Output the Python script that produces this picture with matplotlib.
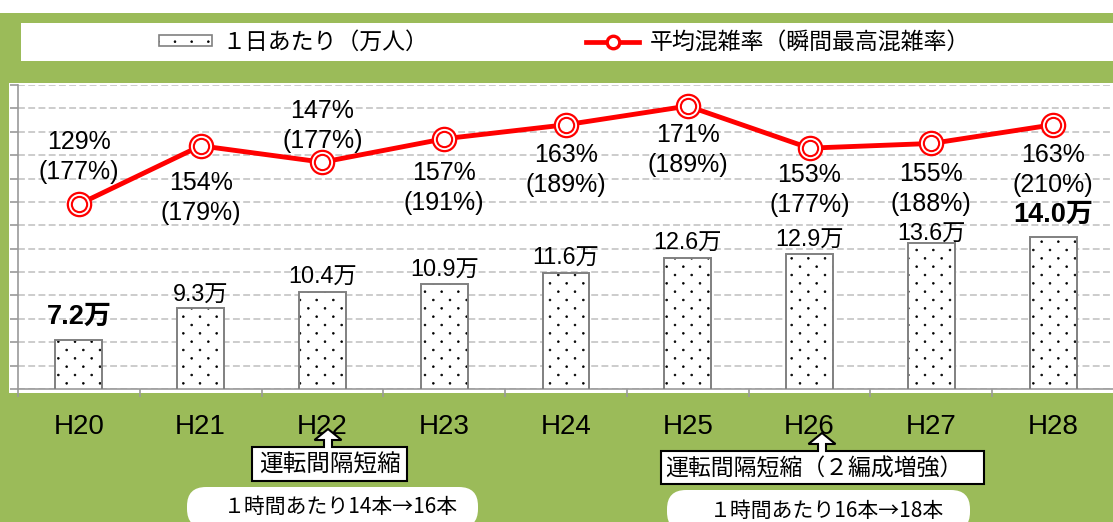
import numpy as np
import matplotlib
matplotlib.use('Agg')
import matplotlib.pyplot as plt
from matplotlib import patches as mpatches, transforms as mtransforms
from matplotlib import hatch as mhatch
from matplotlib.path import Path
from matplotlib.lines import Line2D
from matplotlib.legend_handler import HandlerTuple

# ---------------- data ----------------
years = ['H20', 'H21', 'H22', 'H23', 'H24', 'H25', 'H26', 'H27', 'H28']
riders = [7.2, 9.3, 10.4, 10.9, 11.6, 12.6, 12.9, 13.6, 14.0]          # 万人/日
avg_rate = [129, 154, 147, 157, 163, 171, 153, 155, 163]               # %
peak_rate = [177, 179, 177, 191, 189, 189, 177, 188, 210]              # %
bold_label = [True, False, False, False, False, False, False, False, True]
legend_labels = ['１日あたり（万人）', '平均混雑率（瞬間最高混雑率）']
note1_box = '運転間隔短縮'
note1_pill = '１時間あたり14本→16本'
note2_box = '運転間隔短縮（２編成増強）'
note2_pill = '１時間あたり16本→18本'

# ---------------- layout / style ----------------
W, H = 1113, 522
GREEN = '#9BBB59'
GRID = '#BFBFBF'
AXC = '#9A9A9A'
LAT = ['Liberation Sans', 'Noto Sans CJK JP']
JP = ['Noto Sans CJK JP', 'DejaVu Sans']
PT = 72 / 100  # points per pixel

pct_center_off = [-46, 53, -35, 50, 46, 45, 43, 47, 46]   # px, + = below marker
bar_label_gap = [17, 7, 8, 7, 9, 8, 7, 2, 15]              # px above bar top


# sparse staggered dot texture (Excel "5%" style) used for the '.' hatch
class SparseDots(mhatch.HatchPatternBase):
    def __init__(self, hatch, density):
        n = hatch.count('.')
        self.ncol = 6 * n
        self.nrow = 12 * n
        circ = Path.unit_circle()
        self.cv, self.cc = circ.vertices, circ.codes
        pts = []
        if n:
            for r in range(self.nrow + 1):
                if r % 2 == 0:
                    cols = np.linspace(0, 1, self.ncol + 1)
                else:
                    cols = np.linspace(0.5 / self.ncol, 1 - 0.5 / self.ncol, self.ncol)
                for c in cols:
                    pts.append((c, r / self.nrow))
        self.pts = pts
        self.num_vertices = len(pts) * len(self.cv)

    def set_vertices_and_codes(self, vertices, codes):
        nv = len(self.cv)
        shape = self.cv * 0.009
        for i, (px_, py_) in enumerate(self.pts):
            vertices[i * nv:(i + 1) * nv] = shape + (px_, py_)
            codes[i * nv:(i + 1) * nv] = self.cc


mhatch._hatch_types = [SparseDots if t is mhatch.SmallFilledCircles else t
                       for t in mhatch._hatch_types]
plt.rcParams['hatch.linewidth'] = 0.5

fig = plt.figure(figsize=(W / 100, H / 100), dpi=100, facecolor=GREEN)
PX = mtransforms.Affine2D().scale(1 / W, -1 / H).translate(0, 1) + fig.transFigure

# background blocks
for (x0, y0, w, h) in [(0, 0, W, 13), (21, 23, W - 21, 38), (9, 83, W - 9, 310)]:
    fig.add_artist(mpatches.Rectangle((x0, y0), w, h, transform=PX,
                                      facecolor='white', edgecolor='none', zorder=-5))

# ---------------- axes ----------------
left, right, top, bottom = 18, 1114, 85, 389
ax = fig.add_axes([left / W, (H - bottom) / H, (right - left) / W, (bottom - top) / H])
ax.set_facecolor('none')
x = np.arange(len(years))
ax.set_xlim(-0.5, len(years) - 0.5)
ax.set_ylim(4, 24)
ax.set_yticks(np.linspace(4, 24, 14))
ax.yaxis.grid(True, color=GRID, linestyle=(0, (4.5, 2.2)), linewidth=1.1)
ax.set_axisbelow(True)
for s in ['top', 'right']:
    ax.spines[s].set_visible(False)
for s in ['left', 'bottom']:
    ax.spines[s].set_color(AXC)
    ax.spines[s].set_linewidth(1.2)
ax.tick_params(axis='y', which='major', direction='out', length=8 * PT, width=1.2,
               color=AXC, labelleft=False)
ax.set_xticks(x)
ax.set_xticklabels(years, fontsize=20, family=LAT)
ax.set_xticks(np.arange(len(years) + 1) - 0.5, minor=True)
ax.tick_params(axis='x', which='major', length=0, pad=18)
ax.tick_params(axis='x', which='minor', direction='out', length=8 * PT, width=1.2, color=AXC)

bw = 0.385
ax.bar(x, riders, width=bw, color='white', edgecolor='black', linewidth=0,
       hatch='.', zorder=2)
ax.bar(x, riders, width=bw, facecolor='none', edgecolor='#808080', linewidth=1.4, zorder=3)

for xi, v, b, g in zip(x, riders, bold_label, bar_label_gap):
    ax.annotate(f'{v:.1f}万', (xi, v), xytext=(0, g * PT), textcoords='offset points',
                ha='center', va='baseline', family=LAT,
                fontsize=19.5 if b else 16.8, fontweight='bold' if b else 'normal',
                zorder=6)

# ---------------- line ----------------
ax2 = ax.twinx()
ax2.set_ylim(50, 180)
ax2.axis('off')
ax2.plot(x, avg_rate, color='#FF0000', lw=3.5, zorder=3)
ax2.plot(x, avg_rate, ls='none', marker='o', ms=16.8, mfc='white', mec='#FF0000',
         mew=1.6, zorder=4)
ax2.plot(x, avg_rate, ls='none', marker='o', ms=11, mfc='white', mec='#FF0000',
         mew=1.5, zorder=5)

for xi, a, p, off in zip(x, avg_rate, peak_rate, pct_center_off):
    ax2.annotate(f'{a}%', (xi, a), xytext=(0, -(off - 9) * PT), textcoords='offset points',
                 ha='center', va='baseline', fontsize=18, family=LAT, zorder=6)
    ax2.annotate(f'({p}%)', (xi, a), xytext=(0, -(off + 21) * PT), textcoords='offset points',
                 ha='center', va='baseline', fontsize=18, family=LAT, zorder=6)

# ---------------- legend ----------------
h_dots = mpatches.Patch(facecolor='white', edgecolor='black', linewidth=0, hatch='.')
h_edge = mpatches.Patch(facecolor='none', edgecolor='#808080', linewidth=1.2)
h_line = Line2D([], [], color='#FF0000', lw=3.4, marker='o', ms=9, mfc='white',
                mec='#FF0000', mew=2.4)
fig.legend([(h_dots, h_edge), h_line], legend_labels,
           handler_map={tuple: HandlerTuple(ndivide=1, pad=0)},
           ncol=2, loc='center', bbox_to_anchor=(564.5, 42), bbox_transform=PX,
           frameon=False, prop={'family': JP, 'size': 16.5},
           handlelength=2.3, handleheight=0.4, handletextpad=0.45, columnspacing=6.9)

# ---------------- bottom notes ----------------
def callout(L, R, T, B, ax_x, tip, sw=4, hw=13.5, hl=11):
    hb = tip + hl
    verts = [(L, B), (L, T), (ax_x - sw, T), (ax_x - sw, hb), (ax_x - hw, hb),
             (ax_x, tip), (ax_x + hw, hb), (ax_x + sw, hb), (ax_x + sw, T),
             (R, T), (R, B)]
    fig.add_artist(mpatches.Polygon(verts, closed=True, transform=PX,
                                    facecolor='white', edgecolor='black', lw=1.5, zorder=4))


def pill(x0, x1, y0, y1, r=19):
    fig.add_artist(mpatches.FancyBboxPatch((x0, y0), x1 - x0, y1 - y0,
                                           boxstyle=f'round,pad=0,rounding_size={r}',
                                           transform=PX, facecolor='white',
                                           edgecolor='none', zorder=4))


callout(252, 407, 447, 481, 328, 429)
fig.text(329.5, 465, note1_box, transform=PX, ha='center', va='center',
         fontsize=17, family=JP, zorder=5)
pill(187, 478, 487, 528)
fig.text(341, 507, note1_pill, transform=PX, ha='center', va='center',
         fontsize=15, family=JP, zorder=5)

callout(661, 984, 451, 484, 822, 433)
fig.text(665, 469, note2_box, transform=PX, ha='left', va='center',
         fontsize=16.5, family=JP, zorder=5)
pill(667, 970, 490, 531)
fig.text(827, 511, note2_pill, transform=PX, ha='center', va='center',
         fontsize=15, family=JP, zorder=5)

fig.savefig('out.png', dpi=100, facecolor=GREEN)
